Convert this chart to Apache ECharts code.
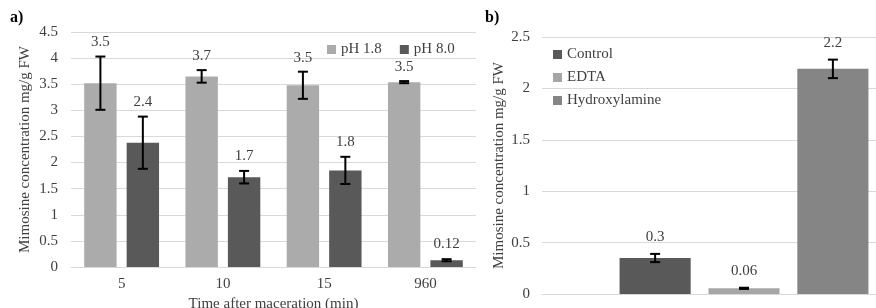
<!DOCTYPE html>
<html>
<head>
<meta charset="utf-8">
<script src="https://cdn.jsdelivr.net/npm/echarts@6/dist/echarts.min.js"></script>
<style>
  html, body { margin: 0; padding: 0; background: #fff; }
  #main { width: 876px; height: 308px; }
</style>
</head>
<body>
<div id="main"></div>
<script>
// panel a) time after maceration
var timeCats = ['5', '10', '15', '960'];
var ph18 = [3.52, 3.65, 3.48, 3.54];
var ph18Err = [0.51, 0.12, 0.26, 0.02];
var ph18Labels = ['3.5', '3.7', '3.5', '3.5'];
var ph80 = [2.38, 1.72, 1.85, 0.13];
var ph80Err = [0.5, 0.12, 0.26, 0.02];
var ph80Labels = ['2.4', '1.7', '1.8', '0.12'];

// panel b) treatments
var treatments = ['Control', 'EDTA', 'Hydroxylamine'];
var treatVals = [0.35, 0.055, 2.19];
var treatErr = [0.04, 0.006, 0.09];
var treatLabels = ['0.3', '0.06', '2.2'];

var FONT = 'Liberation Serif';
var TXT = '#404040';
var colA = ['#ababab', '#595959'];
var colB = ['#595959', '#a6a6a6', '#858585'];

var myChart = echarts.init(document.getElementById('main'));

// error bar + value label drawn above the error bar
function errSeries(name, vals, errs, labels, xi, yi, offsetFn, labelGap) {
  return {
    name: name,
    type: 'custom',
    xAxisIndex: xi,
    yAxisIndex: yi,
    z: 5,
    clip: false,
    data: vals.map(function (v, i) { return [i, v, errs[i]]; }),
    renderItem: function (params, api) {
      var i = api.value(0);
      var v = api.value(1);
      var e = api.value(2);
      var band = api.size([1, 0])[0];
      var c = api.coord([i, v]);
      var x = c[0] + offsetFn(band);
      var yHi = api.coord([i, v + e])[1];
      var yLo = api.coord([i, v - e])[1];
      var cap = 5;
      var st = { stroke: '#000', lineWidth: 2 };
      return {
        type: 'group',
        children: [
          { type: 'line', shape: { x1: x, y1: yHi, x2: x, y2: yLo }, style: st },
          { type: 'line', shape: { x1: x - cap, y1: yHi, x2: x + cap, y2: yHi }, style: st },
          { type: 'line', shape: { x1: x - cap, y1: yLo, x2: x + cap, y2: yLo }, style: st },
          { type: 'text', style: {
              text: labels[params.dataIndex], x: x, y: yHi - labelGap,
              align: 'center', verticalAlign: 'middle',
              font: '15px "' + FONT + '"', fill: TXT } }
        ]
      };
    }
  };
}

var bwA = 0.32, gapA = 0.31;
var bwB = 0.176, gapB = 0.25;

var series = [
  { name: 'pH 1.8', type: 'bar', xAxisIndex: 0, yAxisIndex: 0, data: ph18,
    barWidth: '32%', barGap: '31%', itemStyle: { color: colA[0] } },
  { name: 'pH 8.0', type: 'bar', xAxisIndex: 0, yAxisIndex: 0, data: ph80,
    barWidth: '32%', barGap: '31%', itemStyle: { color: colA[1] } },
  errSeries('e18', ph18, ph18Err, ph18Labels, 0, 0, function (b) { return -b * bwA * (1 + gapA) / 2; }, 14),
  errSeries('e80', ph80, ph80Err, ph80Labels, 0, 0, function (b) { return b * bwA * (1 + gapA) / 2; }, 15)
];

treatments.forEach(function (t, k) {
  series.push({ name: t, type: 'bar', xAxisIndex: 1, yAxisIndex: 1, data: [treatVals[k]],
    barWidth: '17.6%', barGap: '25%', itemStyle: { color: colB[k] } });
});
treatments.forEach(function (t, k) {
  series.push(errSeries('eb' + k, [treatVals[k]], [treatErr[k]], [treatLabels[k]], 1, 1,
    function (b) { return (k - 1) * b * bwB * (1 + gapB); }, 17));
});

var axisText = { fontFamily: FONT, fontSize: 15, color: TXT };

var option = {
  animation: false,
  textStyle: { fontFamily: FONT },
  title: [
    { text: 'a)', left: 5, top: 5, textStyle: { fontFamily: FONT, fontSize: 16, fontWeight: 'bold', color: '#000' } },
    { text: 'b)', left: 480, top: 5, textStyle: { fontFamily: FONT, fontSize: 16, fontWeight: 'bold', color: '#000' } }
  ],
  legend: [
    { data: ['pH 1.8', 'pH 8.0'], left: 322, top: 37, icon: 'rect', itemWidth: 9, itemHeight: 9,
      itemGap: 18, textStyle: { fontFamily: FONT, fontSize: 15, color: TXT } },
    { data: treatments, orient: 'vertical', left: 548, top: 42, icon: 'rect', itemWidth: 9, itemHeight: 9,
      itemGap: 8, textStyle: { fontFamily: FONT, fontSize: 15, color: TXT } }
  ],
  grid: [
    { left: 71, top: 32, width: 405, height: 235, outerBoundsMode: 'none' },
    { left: 542, top: 37, width: 404, height: 257, outerBoundsMode: 'none' }
  ],
  xAxis: [
    { type: 'category', gridIndex: 0, data: timeCats,
      name: 'Time after maceration (min)', nameLocation: 'middle', nameGap: 22,
      nameTextStyle: axisText,
      axisLine: { lineStyle: { color: '#d9d9d9' } }, axisTick: { show: false },
      axisLabel: Object.assign({ margin: 10 }, axisText) },
    { type: 'category', gridIndex: 1, data: [''],
      axisLine: { lineStyle: { color: '#d9d9d9' } }, axisTick: { show: false },
      axisLabel: { show: false } }
  ],
  yAxis: [
    { type: 'value', gridIndex: 0, min: 0, max: 4.5, interval: 0.5,
      name: 'Mimosine concentration mg/g FW', nameLocation: 'middle', nameGap: 38,
      nameTextStyle: axisText,
      axisLine: { show: false }, axisTick: { show: false },
      splitLine: { lineStyle: { color: '#d9d9d9' } },
      axisLabel: Object.assign({ margin: 13 }, axisText) },
    { type: 'value', gridIndex: 1, min: 0, max: 2.5, interval: 0.5,
      name: 'Mimosine concentration mg/g FW', nameLocation: 'middle', nameGap: 35,
      nameTextStyle: axisText,
      axisLine: { show: false }, axisTick: { show: false },
      splitLine: { lineStyle: { color: '#d9d9d9' } },
      axisLabel: Object.assign({ margin: 12 }, axisText) }
  ],
  series: series
};
myChart.setOption(option);
</script>
</body>
</html>
